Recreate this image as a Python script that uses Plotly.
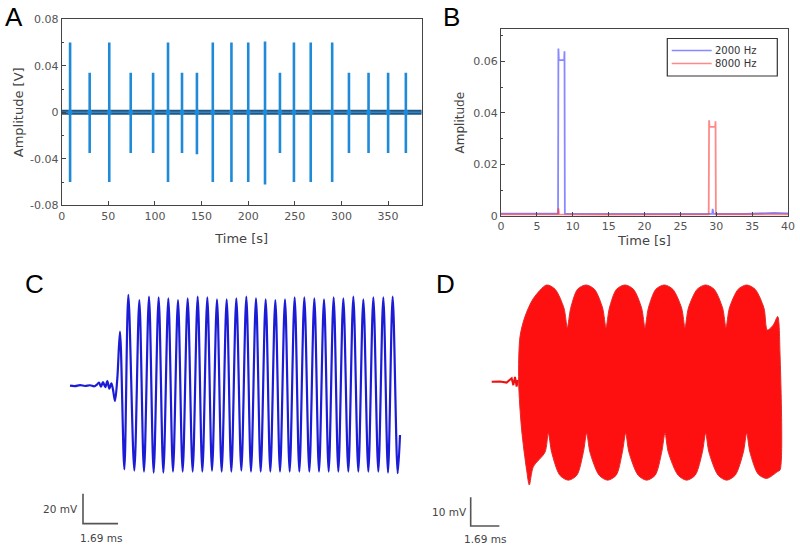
import plotly.graph_objects as go

# ---------------- Panel A: recorded stimulus train ----------------
a_spike_time = [9, 30, 51, 74, 98, 114, 129, 145, 162, 182, 200, 218, 234, 249, 267, 290, 308, 329, 350, 369]
a_spike_max = [0.060, 0.034, 0.060, 0.034, 0.034, 0.060, 0.034, 0.034, 0.060, 0.060,
               0.060, 0.061, 0.034, 0.060, 0.060, 0.060, 0.034, 0.034, 0.034, 0.034]
a_spike_min = [-0.060, -0.035, -0.060, -0.035, -0.035, -0.060, -0.035, -0.036, -0.060, -0.060,
               -0.060, -0.062, -0.035, -0.060, -0.060, -0.060, -0.035, -0.035, -0.035, -0.035]
a_base_time = [0, 386]
a_base_amp = [0, 0]
a_xticks = [0, 50, 100, 150, 200, 250, 300, 350]
a_yticks = [-0.08, -0.04, 0, 0.04, 0.08]
a_yticktext = ["-0.08", "-0.04", "0", "0.04", "0.08"]
a_yminor = [-0.06, -0.02, 0.02, 0.06]

# ---------------- Panel B: envelopes ----------------
b_t_2000 = [0, 4, 7.95, 8.0, 8.06, 8.8, 8.85, 8.9, 14, 20, 26, 29.45, 29.5, 29.6, 34, 38, 40]
b_a_2000 = [0.0009, 0.0008, 0.0009, 0.065, 0.0605, 0.0605, 0.064, 0.0009, 0.0008, 0.0009, 0.0008,
            0.0009, 0.0028, 0.0009, 0.0008, 0.0012, 0.0010]
b_t_8000 = [0, 4, 7.95, 8.0, 8.1, 14, 20, 28.95, 29.0, 29.06, 29.85, 29.9, 29.95, 34, 40]
b_a_8000 = [0.0006, 0.0005, 0.0006, 0.0030, 0.0006, 0.0005, 0.0006, 0.0006, 0.0372, 0.0346,
            0.0346, 0.0368, 0.0006, 0.0005, 0.0006]
b_xticks = [0, 5, 10, 15, 20, 25, 30, 35, 40]
b_yticks = [0, 0.02, 0.04, 0.06]
b_yticktext = ["0", "0.02", "0.04", "0.06"]
b_yminor = [0.01, 0.03, 0.05, 0.07]
b_names = ["2000 Hz", "8000 Hz"]

# ---------------- Panel C: 2000 Hz response (extrema) ----------------
c_onset_ms = [0.000, 0.241, 0.483, 0.724, 0.966, 1.175, 1.288, 1.400, 1.497, 1.593, 1.706,
              1.803, 1.899, 1.996, 2.076, 2.173, 2.286, 2.414]
c_onset_mV = [0, -0.3, 0.4, -0.2, 0.3, -0.4, 0.6, 2.0, -0.6, 2.4, -0.9, 3.0, -2.0, 1.5, -2.5,
              -10.2, 5.0, 36.0]
c_peak_ms = [2.817, 3.348, 3.815, 4.281, 4.748, 5.215, 5.682, 6.165, 6.631, 7.098, 7.565, 8.031,
             8.514, 8.981, 9.448, 9.915, 10.381, 10.848, 11.315, 11.798, 12.265, 12.731, 13.198,
             13.681, 14.164, 14.647, 15.129, 15.580]
c_peak_mV = [60.5, 57.1, 59.4, 58.9, 58.2, 57.1, 58.2, 59.4, 58.9, 57.6, 57.6, 58.2, 59.4, 58.2,
             57.6, 57.1, 57.6, 58.9, 58.9, 58.2, 57.6, 58.9, 58.2, 59.4, 57.6, 58.9, 58.9, 59.4]
c_trough_ms = [2.624, 3.106, 3.573, 4.040, 4.507, 4.973, 5.440, 5.923, 6.390, 6.857, 7.323, 7.790,
               8.273, 8.740, 9.207, 9.673, 10.140, 10.607, 11.074, 11.556, 12.023, 12.490,
               12.957, 13.439, 13.922, 14.405, 14.888, 15.355, 15.822]
c_trough_mV = [-55.8, -56.7, -57.3, -58.0, -58.0, -57.3, -57.3, -57.3, -57.3, -56.7, -57.3, -57.3,
               -56.7, -57.3, -57.3, -57.3, -57.3, -57.3, -57.3, -57.3, -57.3, -57.3, -57.3, -57.3,
               -57.3, -57.3, -57.3, -58.0, -58.4]
c_end_ms = [15.934]
c_end_mV = [-32.9]
c_bar_origin = [0.628, -92.0]   # ms, mV
c_bar_mV = 20
c_bar_ms = 1.69

# ---------------- Panel D: 8000 Hz response (envelope of dense trace) ----------------
d_pre_ms = [0.0, 0.489, 0.881, 1.176, 1.274, 1.372, 1.470, 1.529, 1.588]
d_pre_mV = [0, 0.1, -0.3, 1.2, -1.2, 1.7, -1.7, 0.5, 0]
d_upper_ms = [1.588, 1.667, 1.961, 2.452, 3.237, 3.737, 4.258, 4.454, 4.651, 5.054, 5.554, 6.054,
              6.535, 6.731, 6.928, 7.350, 7.850, 8.350, 8.832, 9.028, 9.224, 9.667, 10.167, 10.667,
              11.188, 11.384, 11.580, 12.101, 12.601, 13.101, 13.602, 13.799, 13.995, 14.516,
              15.016, 15.516, 16.036, 16.233, 16.586, 16.842, 16.979]
d_upper_mV = [0, 15.7, 22.7, 29.0, 33.7, 32.2, 25.6, 18.9, 25.6, 32.2, 33.7, 32.2,
              25.6, 18.9, 25.6, 32.2, 33.7, 32.2, 25.6, 18.9, 25.6, 32.2, 33.7, 32.2,
              25.6, 18.9, 25.6, 32.2, 33.7, 32.2, 25.6, 18.9, 25.6, 32.2,
              33.7, 32.2, 25.6, 18.0, 19.8, 22.7, 9.9]
d_lower_ms = [1.588, 1.765, 2.059, 2.216, 2.452, 3.139, 3.335, 3.532, 4.013, 4.513, 5.013, 5.397,
              5.593, 5.789, 6.330, 6.830, 7.330, 7.693, 7.890, 8.086, 8.626, 9.126, 9.626, 10.010,
              10.206, 10.402, 10.982, 11.482, 11.982, 12.405, 12.601, 12.797, 13.338, 13.838,
              14.338, 14.819, 15.016, 15.212, 15.694, 16.194, 16.842, 16.979]
d_lower_mV = [0, -16.8, -30.8, -36.0, -29.6, -24.6, -18.0, -24.6, -32.6, -34.3, -32.6, -24.6,
              -18.0, -24.6, -32.6, -34.3, -32.6, -24.6, -18.0, -24.6, -32.6, -34.3, -32.6, -24.6,
              -18.0, -24.6, -32.6, -34.3, -32.6, -24.6, -18.0, -24.6, -32.6, -34.3,
              -32.6, -24.6, -18.0, -24.6, -32.2, -33.7, -31.3, -30.8]
d_bar_origin = [-1.237, -50.3]
d_bar_mV = 10
d_bar_ms = 1.69

# ---------------- styling ----------------
W, H = 800, 548
TICK_FONT = dict(family="DejaVu Sans", size=11, color="#555555")
TITLE_FONT = dict(family="DejaVu Sans", size=13, color="#444444")
AX_LINE = "#444444"

fig = go.Figure()

# --- Panel A traces ---
fig.add_trace(go.Scatter(x=a_base_time, y=a_base_amp, mode="lines",
                         line=dict(color="#24557f", width=5), xaxis="x", yaxis="y",
                         showlegend=False, hoverinfo="skip"))
sx, sy = [], []
for t, hi, lo in zip(a_spike_time, a_spike_max, a_spike_min):
    sx += [t, t, None]
    sy += [lo, hi, None]
fig.add_trace(go.Scatter(x=sx, y=sy, mode="lines", line=dict(color="#1f8ad8", width=2.6),
                         xaxis="x", yaxis="y", showlegend=False))
fig.add_trace(go.Scatter(x=a_base_time, y=a_base_amp, mode="lines",
                         line=dict(color="#2a86cc", width=1.4), xaxis="x", yaxis="y",
                         showlegend=False, hoverinfo="skip"))
fig.add_trace(go.Scatter(x=a_spike_time, y=[0] * len(a_spike_time), mode="markers",
                         marker=dict(color="#1f8ad8", size=5), xaxis="x", yaxis="y",
                         showlegend=False))

# --- Panel B traces ---
b_colors = ["rgba(40,40,255,0.55)", "rgba(255,40,40,0.55)"]
fig.add_trace(go.Scatter(x=b_t_2000, y=b_a_2000, mode="lines", name=b_names[0],
                         line=dict(color=b_colors[0], width=1.8), xaxis="x2", yaxis="y2",
                         showlegend=False))
fig.add_trace(go.Scatter(x=b_t_8000, y=b_a_8000, mode="lines", name=b_names[1],
                         line=dict(color=b_colors[1], width=1.8), xaxis="x2", yaxis="y2",
                         showlegend=False))

# --- Panel C trace ---
c_pts = list(zip(c_onset_ms, c_onset_mV)) + list(zip(c_peak_ms, c_peak_mV)) + \
    list(zip(c_trough_ms, c_trough_mV)) + list(zip(c_end_ms, c_end_mV))
c_pts.sort(key=lambda p: p[0])
fig.add_trace(go.Scatter(x=[p[0] for p in c_pts], y=[p[1] for p in c_pts], mode="lines",
                         line=dict(color="#1c1cd6", width=2.2, shape="spline", smoothing=0.9),
                         xaxis="x3", yaxis="y3", showlegend=False))
cx0, cy0 = c_bar_origin
fig.add_trace(go.Scatter(x=[cx0, cx0, cx0 + c_bar_ms], y=[cy0 + c_bar_mV, cy0, cy0],
                         mode="lines", line=dict(color="#555555", width=1.6),
                         xaxis="x3", yaxis="y3", showlegend=False))

# --- Panel D traces ---
fig.add_trace(go.Scatter(x=d_pre_ms, y=d_pre_mV, mode="lines",
                         line=dict(color="#ee1111", width=2), xaxis="x4", yaxis="y4",
                         showlegend=False))
d_poly_x = d_upper_ms + d_lower_ms[::-1]
d_poly_y = d_upper_mV + d_lower_mV[::-1]
fig.add_trace(go.Scatter(x=d_poly_x, y=d_poly_y, mode="lines", fill="toself",
                         fillcolor="#ff1010",
                         line=dict(color="#e42a2a", width=1, shape="spline", smoothing=0.8),
                         xaxis="x4", yaxis="y4", showlegend=False))
dx0, dy0 = d_bar_origin
fig.add_trace(go.Scatter(x=[dx0, dx0, dx0 + d_bar_ms], y=[dy0 + d_bar_mV, dy0, dy0],
                         mode="lines", line=dict(color="#555555", width=1.6),
                         xaxis="x4", yaxis="y4", showlegend=False))


def px_x(p):
    return p / W


def px_y(p):
    return 1 - p / H


common_axis = dict(showline=True, linecolor=AX_LINE, linewidth=1, mirror=True, showgrid=False,
                   zeroline=False, ticks="inside", ticklen=4, tickcolor=AX_LINE,
                   tickfont=TICK_FONT, automargin=False)
hidden_axis = dict(visible=False, automargin=False, showgrid=False, zeroline=False)

fig.update_layout(
    template="none",
    width=W, height=H, margin=dict(l=0, r=0, t=0, b=0, pad=0, autoexpand=False),
    paper_bgcolor="white", plot_bgcolor="white", showlegend=False,
    font=dict(family="DejaVu Sans", size=11, color="#444444"),
    xaxis=dict(domain=[px_x(61.7), px_x(421.7)], range=[0, 386], anchor="y",
               tickvals=a_xticks, title=dict(text="Time [s]", font=TITLE_FONT, standoff=12),
               **common_axis),
    yaxis=dict(domain=[px_y(205.3), px_y(19.3)], range=[-0.08, 0.08], anchor="x",
               tickvals=a_yticks, ticktext=a_yticktext,
               minor=dict(tickvals=a_yminor, ticks="inside", ticklen=2, tickcolor=AX_LINE),
               title=dict(text="Amplitude [V]", font=TITLE_FONT, standoff=3),
               **common_axis),
    xaxis2=dict(domain=[px_x(501), px_x(788)], range=[0, 40], anchor="y2",
                tickvals=b_xticks, title=dict(text="Time [s]", font=TITLE_FONT, standoff=0),
                **common_axis),
    yaxis2=dict(domain=[px_y(216), px_y(29.3)], range=[0, 0.0725], anchor="x2",
                tickvals=b_yticks, ticktext=b_yticktext,
                minor=dict(tickvals=b_yminor, ticks="inside", ticklen=2, tickcolor=AX_LINE),
                title=dict(text="Amplitude", font=dict(family="DejaVu Sans", size=12,
                                                        color="#444444"), standoff=6),
                **common_axis),
    xaxis3=dict(domain=[px_x(30), px_x(410)], range=[-1.931, 16.417], anchor="y3",
                **hidden_axis),
    yaxis3=dict(domain=[px_y(540), px_y(290)], range=[-102.9, 63.8], anchor="x3",
                **hidden_axis),
    xaxis4=dict(domain=[px_x(420), px_x(795)], range=[-4.222, 17.862], anchor="y4",
                **hidden_axis),
    yaxis4=dict(domain=[px_y(548), px_y(275)], range=[-57.94, 37.18], anchor="x4",
                **hidden_axis),
)

# panel letters
for letter, (lx, ly) in zip(["A", "B", "C", "D"], [(14, 17), (451.7, 17), (34, 284), (445, 284)]):
    fig.add_annotation(x=px_x(lx), y=px_y(ly), xref="paper", yref="paper", text=letter,
                       showarrow=False, xanchor="center", yanchor="middle",
                       font=dict(family="Liberation Sans", size=26, color="black"))

# scale bar labels
SB_FONT = dict(family="DejaVu Sans", size=10.5, color="#444444")
fig.add_annotation(x=cx0, y=cy0 + c_bar_mV / 2, xref="x3", yref="y3", text=f"{c_bar_mV} mV",
                   showarrow=False, xanchor="right", yanchor="middle", xshift=-3, font=SB_FONT)
fig.add_annotation(x=cx0 + c_bar_ms / 2, y=cy0, xref="x3", yref="y3", text=f"{c_bar_ms} ms",
                   showarrow=False, xanchor="center", yanchor="top", yshift=-6, font=SB_FONT)
fig.add_annotation(x=dx0, y=dy0 + d_bar_mV / 2, xref="x4", yref="y4", text=f"{d_bar_mV} mV",
                   showarrow=False, xanchor="right", yanchor="middle", xshift=-2, font=SB_FONT)
fig.add_annotation(x=dx0 + d_bar_ms / 2, y=dy0, xref="x4", yref="y4", text=f"{d_bar_ms} ms",
                   showarrow=False, xanchor="center", yanchor="top", yshift=-5, font=SB_FONT)

# legend for panel B
LEG_TOP, LEG_ROW = 50.5, 13.0
fig.add_shape(type="rect", xref="paper", yref="paper", x0=px_x(667.3), x1=px_x(777.3),
              y0=px_y(76), y1=px_y(38.5), line=dict(color="#333333", width=1.2),
              fillcolor="white")
for i, col in enumerate(b_colors):
    yy = px_y(LEG_TOP + LEG_ROW * i)
    fig.add_shape(type="line", xref="paper", yref="paper", x0=px_x(671.7), x1=px_x(711.7),
                  y0=yy, y1=yy, line=dict(color=col, width=1.4))
fig.add_annotation(x=px_x(713), y=px_y(LEG_TOP + LEG_ROW / 2), xref="paper", yref="paper",
                   text="<br>".join(b_names), showarrow=False, xanchor="left",
                   yanchor="middle", align="left",
                   font=dict(family="DejaVu Sans", size=10, color="#333333"))

fig.write_html(
    "out.html",
    config={"displayModeBar": False},
    post_script="document.body.style.margin='0';document.body.style.padding='0';"
                "document.body.style.overflow='hidden';",
)
